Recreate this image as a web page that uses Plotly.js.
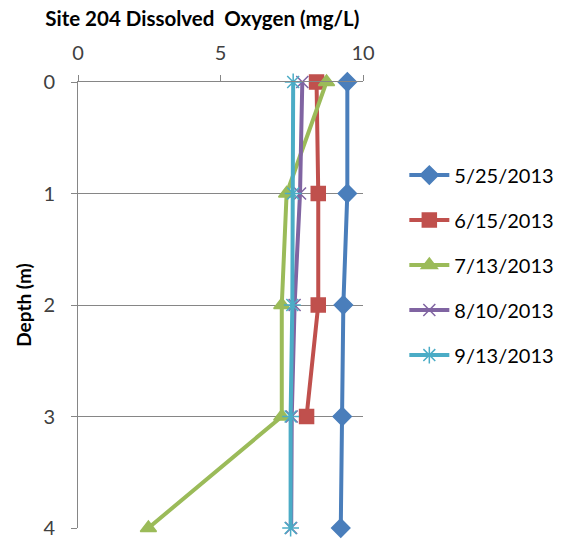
<!DOCTYPE html>
<html>
<head>
<meta charset="utf-8">
<script src="https://cdn.plot.ly/plotly-3.0.1.min.js"></script>
<style>html,body{margin:0;padding:0;background:#fff;}#chart{width:583px;height:540px;}</style>
</head>
<body>
<div id="chart"></div>
<script>
const depths = [0, 1, 2, 3, 4];
const seriesNames = ["5/25/2013", "6/15/2013", "7/13/2013", "8/10/2013", "9/13/2013"];
const do0525 = [9.45, 9.45, 9.31, 9.27, 9.22];
const do0615 = [8.37, 8.43, 8.43, 8.02, null];
const do0713 = [8.72, 7.32, 7.15, 7.15, 2.47];
const do0810 = [7.87, 7.79, 7.60, 7.50, 7.48];
const do0913 = [7.55, 7.55, 7.52, 7.46, 7.46];
const xTicks = [0, 5, 10];
const yTicks = [0, 1, 2, 3, 4];

const colors = ["#4A7EBB", "#C0504D", "#9BBB59", "#8064A2", "#4BACC6"];
const symbols = ["diamond", "square", "triangle-up", "x-thin-open", "asterisk-open"];
const sizes = [14, 14, 14, 12, 14];
const values = [do0525, do0615, do0713, do0810, do0913];

const traces = values.map((v, i) => ({
  x: v, y: depths, name: seriesNames[i], type: "scatter", mode: "lines+markers",
  line: {color: colors[i], width: 4},
  marker: {symbol: symbols[i], size: sizes[i], color: colors[i], line: {color: colors[i], width: 1.5}},
  legendgroup: "g" + i, cliponaxis: false, connectgaps: false
}));

const font = {family: "Lato, 'Open Sans', sans-serif", color: "#404040"};
const layout = {
  width: 583, height: 540,
  margin: {l: 78, r: 220, t: 82, b: 12},
  paper_bgcolor: "#fff", plot_bgcolor: "#fff",
  font: font,
  showlegend: true,
  title: {text: "<b>Site 204 Dissolved  Oxygen (mg/L)</b>", xref: "container", x: 0.347, xanchor: "center", yref: "container", y: 0.965, yanchor: "middle", font: {family: font.family, size: 20.5, color: "#000"}},
  xaxis: {side: "top", range: [0, 10], tickvals: xTicks, ticktext: xTicks.map(String), showline: true, linecolor: "#868686", linewidth: 1, ticks: "outside", ticklen: 6, tickcolor: "#868686", showgrid: false, zeroline: false, tickfont: {size: 20, color: "#404040"}, ticklabelstandoff: 7},
  yaxis: {range: [4, 0], tickvals: yTicks, ticktext: yTicks.map(String), showline: true, linecolor: "#868686", linewidth: 1, ticks: "outside", ticklen: 6, tickcolor: "#868686", showgrid: true, gridcolor: "#868686", gridwidth: 1, zeroline: false, tickfont: {size: 20, color: "#404040"}, ticklabelstandoff: 12,
    title: {text: "<b>Depth (m)</b>", font: {size: 19, color: "#000"}, standoff: 6}},
  legend: {x: 1.145, xanchor: "left", y: 0.835, yanchor: "top", traceorder: "grouped", tracegroupgap: 16, font: {size: 20, color: "#000"}, itemwidth: 40, bgcolor: "rgba(0,0,0,0)"}
};
Plotly.newPlot("chart", traces, layout, {displayModeBar: false, staticPlot: true});
</script>
</body>
</html>
